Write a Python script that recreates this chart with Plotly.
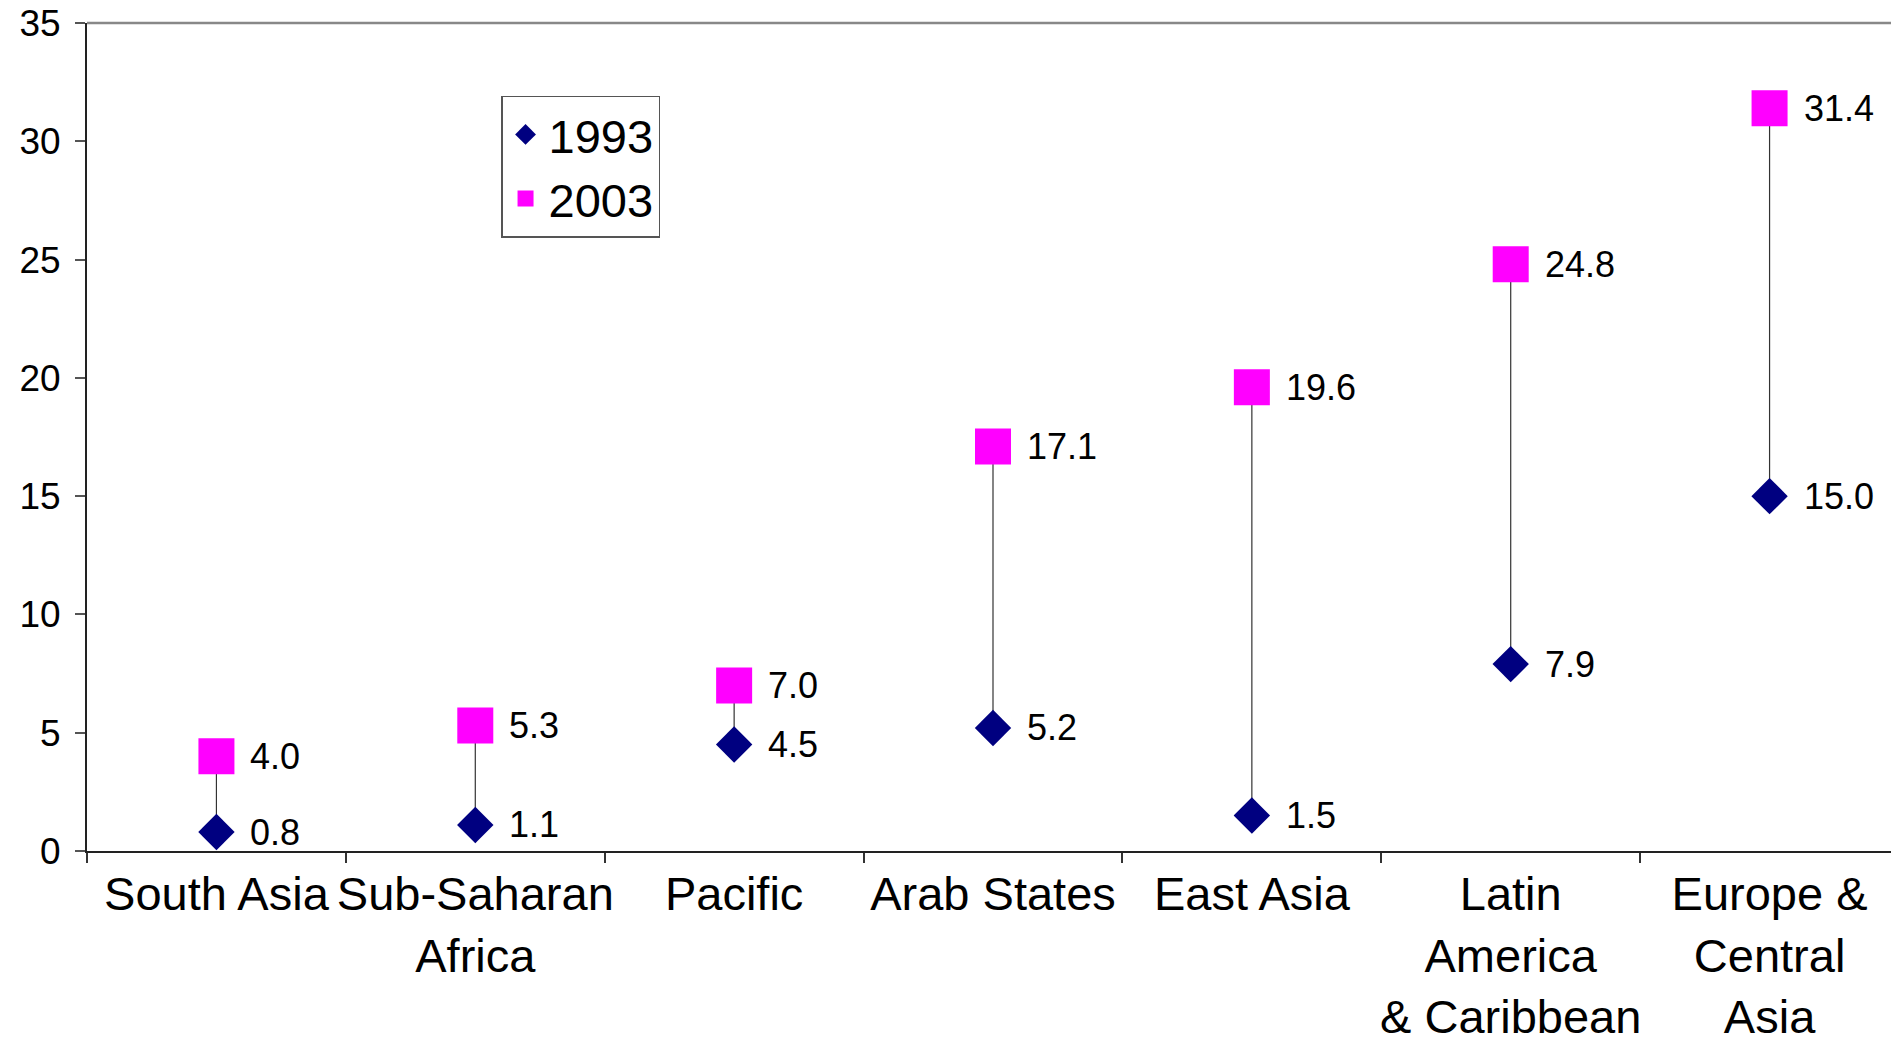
import plotly.graph_objects as go

categories = ["South Asia", "Sub-Saharan<br>Africa", "Pacific", "Arab States",
              "East Asia", "Latin<br>America<br>& Caribbean", "Europe &<br>Central<br>Asia"]
values_1993 = [0.8, 1.1, 4.5, 5.2, 1.5, 7.9, 15.0]
values_2003 = [4.0, 5.3, 7.0, 17.1, 19.6, 24.8, 31.4]
series_names = ["1993", "2003"]
y_ticks = [0, 5, 10, 15, 20, 25, 30, 35]

FONT = "Liberation Sans, Arial, sans-serif"

fig = go.Figure()

# high-low connector lines
lx, ly = [], []
for c, lo, hi in zip(categories, values_1993, values_2003):
    lx += [c, c, None]
    ly += [lo, hi, None]
fig.add_trace(go.Scatter(x=lx, y=ly, mode="lines", line=dict(color="#333333", width=1.2),
                         showlegend=False, hoverinfo="skip"))

fig.add_trace(go.Scatter(x=categories, y=values_1993, mode="markers", name=series_names[0],
                         marker=dict(symbol="diamond", size=28, color="#000080",
                                     line=dict(width=0)), cliponaxis=False))
fig.add_trace(go.Scatter(x=categories, y=values_2003, mode="markers", name=series_names[1],
                         marker=dict(symbol="square", size=36, color="#FF00FF",
                                     line=dict(width=0)), cliponaxis=False))

annotations = []
for vals in (values_1993, values_2003):
    for c, v in zip(categories, vals):
        annotations.append(dict(x=c, y=v, xref="x", yref="y", text=f"{v:.1f}",
                                showarrow=False, xanchor="left", yanchor="middle",
                                xshift=32, font=dict(family=FONT, size=36, color="black")))

fig.update_layout(
    width=1891, height=1032,
    margin=dict(l=79, r=0, t=15, b=189),
    paper_bgcolor="white", plot_bgcolor="white",
    font=dict(family=FONT, color="black"),
    showlegend=True,
    legend=dict(x=0.2285, y=0.912, xanchor="left", yanchor="top",
                bgcolor="white", bordercolor="#555555", borderwidth=1.5,
                font=dict(family=FONT, size=47, color="black"),
                itemwidth=36, tracegroupgap=0),
    annotations=annotations,
    shapes=[dict(type="line", xref="paper", yref="paper", x0=0, x1=1, y0=1, y1=1,
                 line=dict(color="#888888", width=2.5))],
    xaxis=dict(type="category", categoryorder="array", categoryarray=categories,
               range=[-0.5, 6.5], tickson="boundaries", ticks="outside", ticklen=10,
               tickcolor="#333333", tickwidth=1.5, showline=True, linecolor="#222222",
               linewidth=2, showgrid=False, zeroline=False, tickangle=0,
               tickfont=dict(family=FONT, size=47, color="black"),
               ticklabelstandoff=1, automargin=False, ticklabeloverflow="allow"),
    yaxis=dict(range=[0, 35], tickvals=y_ticks, ticks="outside", ticklen=10,
               tickcolor="#555555", tickwidth=1.5, showline=True, linecolor="#222222",
               linewidth=2, showgrid=False, zeroline=False,
               tickfont=dict(family=FONT, size=37, color="black"),
               ticklabelstandoff=7, automargin=False, ticklabeloverflow="allow"),
)

fig.write_html("out.html", config={"displayModeBar": False})
